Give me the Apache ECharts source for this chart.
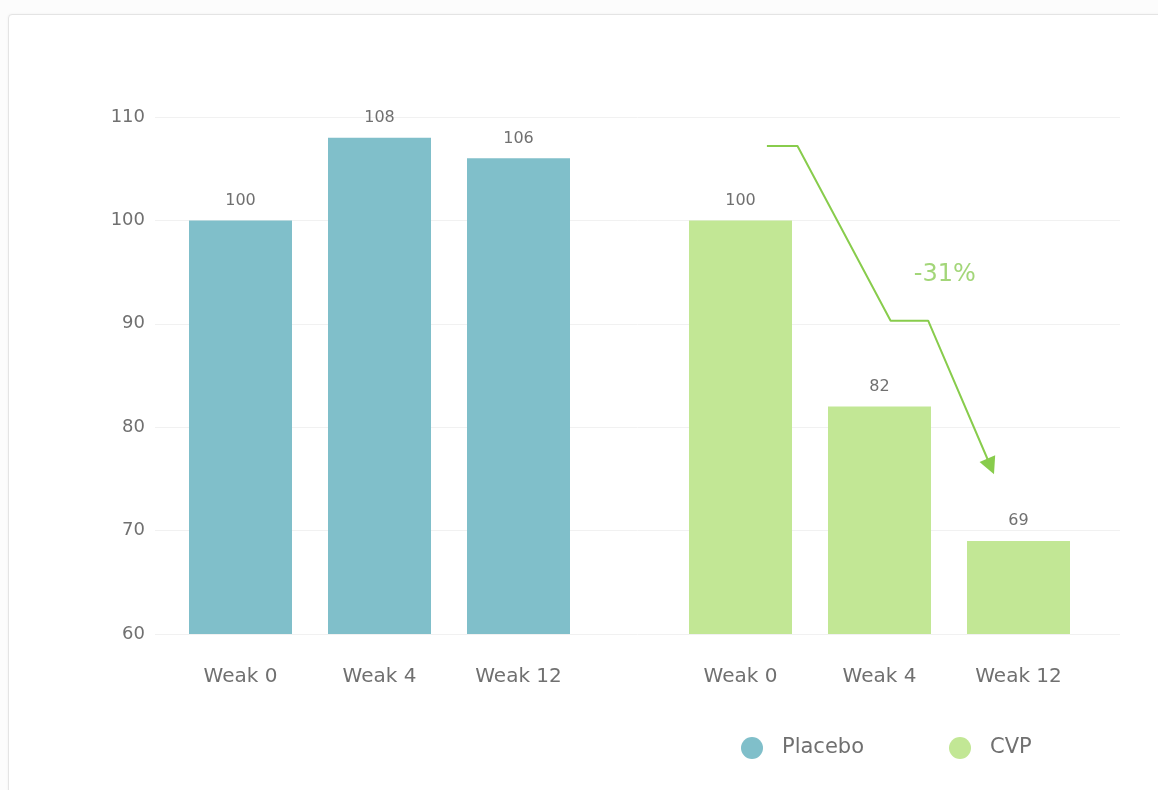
<!DOCTYPE html>
<html>
<head>
<meta charset="utf-8">
<script src="https://cdn.jsdelivr.net/npm/echarts@6/dist/echarts.min.js"></script>
<style>
  html, body { margin: 0; padding: 0; background: #fcfcfc; }
  #card {
    position: absolute; left: 8px; top: 14px; width: 1200px; height: 820px;
    background: #ffffff; border: 1px solid #e4e4e4; border-radius: 4px;
    box-shadow: 0 0 3px rgba(0,0,0,0.05);
  }
  #chart { position: absolute; left: 0; top: 0; width: 1158px; height: 790px; }
</style>
</head>
<body>
<div id="card"></div>
<div id="chart"></div>
<script>
// Weeks shown under each group
const categories = ['Weak 0', 'Weak 4', 'Weak 12'];
// Relative score per group
const placebo = [100, 108, 106];
const cvp = [100, 82, 69];
// Value axis range and step
const yMin = 60;
const yMax = 110;
const yStep = 10;
// Trend arrow path over the CVP group (x: category position, y: score)
const arrowX = [0.19, 0.41, 1.08, 1.35, 1.80];
const arrowY = [107.2, 107.2, 90.3, 90.3, 76.2];
// Where the percentage change text sits
const changeLabelAt = [1.47, 94.7];

const FONT = 'DejaVu Sans';
const TEXT = '#707070';
const BLUE = '#80bfca';
const GREEN = '#c2e795';
const ARROW = '#88cc4c';

const change = Math.round((cvp[cvp.length - 1] - cvp[0]) / cvp[0] * 100);
const arrowData = arrowX.map((x, i) => {
  const p = { value: [x, arrowY[i]] };
  if (i === arrowX.length - 1) {
    p.symbol = 'triangle';
    p.symbolSize = [17, 17];
    p.symbolRotate = -157;
    p.itemStyle = { color: ARROW };
  }
  return p;
});

const chart = echarts.init(document.getElementById('chart'), null, { renderer: 'canvas' });

const catAxis = (gridIndex) => ({
  gridIndex, type: 'category', data: categories,
  axisLine: { show: false }, axisTick: { show: false },
  axisLabel: { color: TEXT, fontFamily: FONT, fontSize: 20, margin: 33 }
});
const hiddenY = (gridIndex) => ({ gridIndex, type: 'value', min: yMin, max: yMax, interval: yStep, show: false });

chart.setOption({
  animation: false,
  backgroundColor: 'transparent',
  grid: [
    { left: 155, right: 38, top: 117, bottom: 156 },
    { left: 171, width: 417, top: 117, bottom: 156 },
    { left: 671, width: 417, top: 117, bottom: 156 }
  ],
  xAxis: [
    { gridIndex: 0, type: 'value', min: 0, max: 1, show: false },
    catAxis(1),
    catAxis(2),
    { gridIndex: 2, type: 'value', min: -0.5, max: 2.5, show: false }
  ],
  yAxis: [
    {
      gridIndex: 0, type: 'value', min: yMin, max: yMax, interval: yStep,
      axisLine: { show: false }, axisTick: { show: false },
      axisLabel: { color: TEXT, fontFamily: FONT, fontSize: 18, margin: 10 },
      splitLine: { lineStyle: { color: '#f1f1f1', width: 1 } }
    },
    hiddenY(1),
    hiddenY(2)
  ],
  legend: {
    data: ['Placebo', 'CVP'],
    icon: 'circle',
    left: 736, top: 732,
    itemWidth: 22, itemHeight: 22, itemGap: 85,
    textStyle: { color: TEXT, fontFamily: FONT, fontSize: 21, padding: [0, 0, 0, 14] }
  },
  series: [
    {
      name: 'Placebo', type: 'bar', xAxisIndex: 1, yAxisIndex: 1,
      data: placebo, barWidth: 103,
      itemStyle: { color: BLUE },
      label: { show: true, position: 'top', distance: 12, color: '#707070', fontFamily: FONT, fontSize: 16 }
    },
    {
      name: 'CVP', type: 'bar', xAxisIndex: 2, yAxisIndex: 2,
      data: cvp, barWidth: 103,
      itemStyle: { color: GREEN },
      label: { show: true, position: 'top', distance: 12, color: '#707070', fontFamily: FONT, fontSize: 16 }
    },
    {
      name: 'trend', type: 'line', xAxisIndex: 3, yAxisIndex: 2,
      data: arrowData, symbol: 'none', silent: true,
      lineStyle: { color: ARROW, width: 2 },
      z: 5
    },
    {
      name: 'change', type: 'scatter', xAxisIndex: 3, yAxisIndex: 2,
      data: [changeLabelAt], symbolSize: 0, silent: true,
      label: {
        show: true, position: 'inside', formatter: change + '%',
        color: '#8ccc58', fontFamily: FONT, fontSize: 24
      }
    }
  ]
});
</script>
</body>
</html>
